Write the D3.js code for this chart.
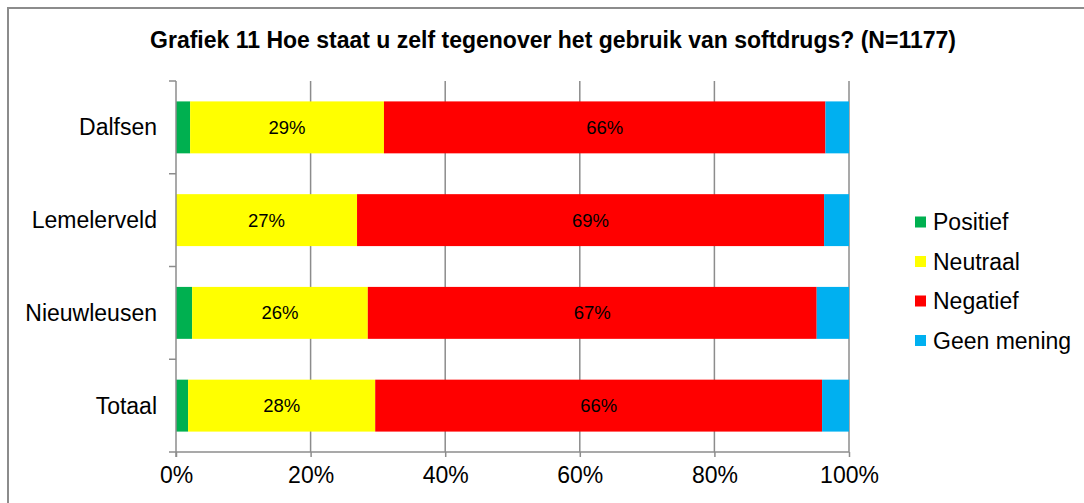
<!DOCTYPE html>
<html>
<head>
<meta charset="utf-8">
<script src="https://cdn.jsdelivr.net/npm/d3@7"></script>
<style>
  body { margin: 0; background: #fff; }
  svg { display: block; font-family: "Liberation Sans", Arial, sans-serif; }
</style>
</head>
<body>
<svg width="1084" height="503"></svg>
<script>
// data (percentages)
var categories = ['Dalfsen', 'Lemelerveld', 'Nieuwleusen', 'Totaal'];
var seriesNames = ['Positief', 'Neutraal', 'Negatief', 'Geen mening'];
var positief = [2.1, 0, 2.4, 1.8];
var neutraal = [28.8, 26.9, 26.1, 27.8];
var negatief = [65.6, 69.4, 66.7, 66.4];
var geenMening = [3.5, 3.7, 4.8, 4.0];
var xTicks = [0, 20, 40, 60, 80, 100];
var colors = ['#00B050', '#FFFF00', '#FF0000', '#00B0F0'];
var labelled = ['Neutraal', 'Negatief'];

var rows = categories.map(function(c, i) {
    return {cat: c, Positief: positief[i], Neutraal: neutraal[i], Negatief: negatief[i], 'Geen mening': geenMening[i]};
});

var svg = d3.select('svg');
var margin = {top: 81, left: 176, right: 235, bottom: 51};

// chart frame
svg.append('rect')
    .attr('x', 8).attr('y', 8)
    .attr('width', 1090).attr('height', 510)
    .attr('fill', 'none')
    .attr('stroke', '#8c8c8c')
    .attr('stroke-width', 2);

// title
svg.append('text')
    .attr('x', 553).attr('y', 48)
    .attr('text-anchor', 'middle')
    .attr('font-weight', 'bold')
    .attr('font-size', 23)
    .text('Grafiek 11 Hoe staat u zelf tegenover het gebruik van softdrugs? (N=1177)');

//scales
var xScale = d3.scaleLinear()
    .domain([0, 100])
    .range([margin.left, 849]);
var yScale = d3.scaleBand()
    .domain(categories)
    .range([margin.top, 452])
    .paddingInner(0.44)
    .paddingOuter(0.22);

// gridlines
svg.append('g')
    .selectAll('line')
    .data(xTicks.slice(1))
    .enter().append('line')
    .attr('x1', d => xScale(d)).attr('x2', d => xScale(d))
    .attr('y1', margin.top).attr('y2', 452)
    .attr('stroke', '#8c8c8c')
    .attr('stroke-width', 1.5);

// stacked bars
var stack = d3.stack().keys(seriesNames);
var layers = stack(rows);

var layerG = svg.append('g').selectAll('g')
    .data(layers)
    .enter().append('g')
    .attr('fill', (d, i) => colors[i]);

layerG.selectAll('rect')
    .data(d => d)
    .enter().append('rect')
    .attr('x', d => xScale(d[0]))
    .attr('width', d => xScale(d[1]) - xScale(d[0]))
    .attr('y', d => yScale(d.data.cat))
    .attr('height', yScale.bandwidth());

// value labels
layerG.filter(d => labelled.indexOf(d.key) >= 0)
    .selectAll('text')
    .data(d => d)
    .enter().append('text')
    .attr('x', d => (xScale(d[0]) + xScale(d[1])) / 2)
    .attr('y', d => yScale(d.data.cat) + yScale.bandwidth() / 2 + 6.5)
    .attr('text-anchor', 'middle')
    .attr('font-size', 18.5)
    .attr('fill', '#000')
    .text(d => Math.round(d[1] - d[0]) + '%');

// x axis
var xAxis = d3.axisBottom()
    .scale(xScale)
    .tickValues(xTicks)
    .tickSize(5)
    .tickPadding(10)
    .tickFormat(d => d + '%');

var gx = svg.append('g')
    .attr('transform', 'translate(' + [0, 452] + ')')
    .call(xAxis);
gx.select('.domain').attr('stroke', '#8c8c8c').attr('stroke-width', 1.5)
    .attr('d', 'M' + (margin.left - 7) + ',0H849');
gx.selectAll('.tick line').attr('stroke', '#8c8c8c').attr('stroke-width', 1.5);
gx.selectAll('.tick text')
    .attr('font-size', 23)
    .attr('font-family', '"Liberation Sans", Arial, sans-serif')
    .attr('fill', '#000');

// y axis: line with ticks between categories
var gy = svg.append('g');
gy.append('line')
    .attr('x1', margin.left).attr('x2', margin.left)
    .attr('y1', margin.top).attr('y2', 457)
    .attr('stroke', '#8c8c8c').attr('stroke-width', 1.5);
var bounds = categories.map(c => yScale(c) - (yScale.step() - yScale.bandwidth()) / 2);
gy.selectAll('.ytick')
    .data(bounds)
    .enter().append('line')
    .attr('x1', margin.left - 7).attr('x2', margin.left)
    .attr('y1', d => d).attr('y2', d => d)
    .attr('stroke', '#8c8c8c').attr('stroke-width', 1.5);
gy.selectAll('text')
    .data(categories)
    .enter().append('text')
    .attr('x', 157)
    .attr('y', d => yScale(d) + yScale.bandwidth() / 2 + 8)
    .attr('text-anchor', 'end')
    .attr('font-size', 23)
    .text(d => d);

// legend
var legend = svg.append('g').selectAll('g')
    .data(seriesNames)
    .enter().append('g')
    .attr('transform', (d, i) => 'translate(' + [915, 222 + i * 39.5] + ')');
legend.append('rect')
    .attr('x', 0).attr('y', -5.5)
    .attr('width', 11).attr('height', 11)
    .attr('fill', (d, i) => colors[i]);
legend.append('text')
    .attr('x', 18).attr('y', 8)
    .attr('font-size', 23)
    .text(d => d);
</script>
</body>
</html>
